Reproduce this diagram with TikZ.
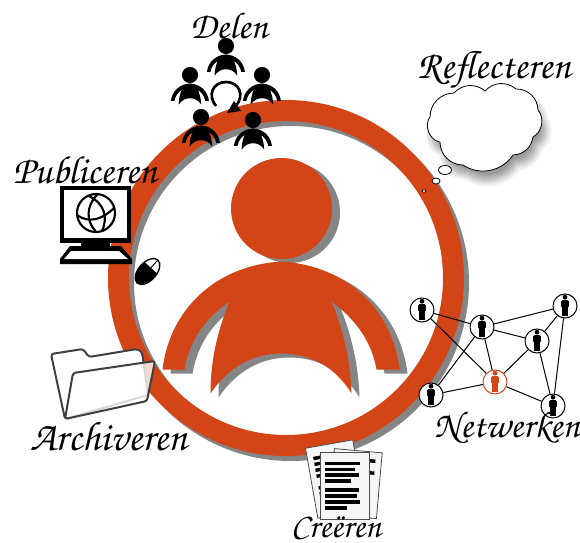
\documentclass[tikz,border=0pt]{standalone}
\usepackage[T1]{fontenc}
\usetikzlibrary{shadows.blur}
\definecolor{ringred}{HTML}{D34516}
\definecolor{shadegray}{HTML}{858585}
\tikzset{handtext/.style={inner sep=0pt,font=\fontencoding{T1}\fontfamily{pzc}\fontseries{mb}\fontshape{it}\fontsize{#1}{#1}\selectfont}}
\tikzstyle{netcircle}=[circle,draw=black,fill=white,line width=0.75pt,minimum size=18pt,inner sep=0pt]
\tikzstyle{netline}=[line width=0.75pt]
\tikzstyle{pagesheet}=[fill=white!96!black,draw=black!70,line width=0.6pt]
\tikzstyle{foldersheet}=[draw=black!75,line width=1.5pt,rounded corners=2pt]
\tikzstyle{globeline}=[line width=1.6pt]
% body and head around the head centre, used big and small
\newcommand{\personpath}{
  (0,53) .. controls (-67,57) and (-112,102) .. (-119,161) -- (-97,161)
  .. controls (-92,132) and (-77,110) .. (-52,93)
  .. controls (-66,127) and (-71,157) .. (-71,185)
  .. controls (-52,157) and (-27,145) .. (0,145)
  .. controls (27,145) and (53,157) .. (70,185)
  .. controls (69,157) and (64,127) .. (50,93)
  .. controls (73,110) and (90,132) .. (95,161) -- (118,161)
  .. controls (111,102) and (66,57) .. (0,53) -- cycle
  (0,0) circle (50.5)
}
\newcommand{\smallperson}[2]{
  \fill[black,shift={(#1,#2)},scale=0.16] \personpath;
}
\newcommand{\netman}[2][black]{
  \fill[#1,shift={(#2)}] (0,-8.8) circle (2.4);
  \fill[#1,shift={(#2)},rounded corners=1pt] (-3.8,-6) rectangle (3.8,2);
  \fill[#1,shift={(#2)}] (-2.9,0) rectangle (-0.2,10);
  \fill[#1,shift={(#2)}] (0.2,0) rectangle (2.9,10);
}
\begin{document}
\begin{tikzpicture}[x=0.75pt,y=-0.75pt]
  \useasboundingbox (0,0) rectangle (580,542);
  % ring
  \fill[shadegray,even odd rule] (291,283) circle (178) (291,283) circle (157);
  \fill[ringred,even odd rule] (286,278) circle (178) (286,278) circle (157);
  % big person
  \fill[shadegray,shift={(289.5,212.5)}] \personpath;
  \fill[ringred,shift={(281.5,208.5)}] \personpath;
  % Delen
  \smallperson{226}{46}
  \smallperson{190}{75}
  \smallperson{262}{75}
  \draw[line width=2pt] (216,106) .. controls (207,95) and (213,82) .. (226,82) .. controls (239,82) and (245,95) .. (236,106);
  \fill (234,101) -- (241,111) -- (227,113) -- cycle;
  \smallperson{201}{117}
  \smallperson{253}{120}
  \node[handtext=28] (delen) at (229,25) {Delen};
  % Reflecteren
  \node[handtext=29.5] (reflecteren) at (494,71) {Reflecteren};
  \path[fill=white,draw=black,line width=0.6pt,blur shadow={shadow xshift=3pt,shadow yshift=-7pt,shadow blur radius=5pt,shadow blur steps=10}]
    (454,93) to[bend left=45] (485,91) to[bend left=45] (516,89) to[bend left=45] (538,110)
    to[bend left=50] (533,137) to[bend left=40] (513,155) to[bend left=45] (463,165)
    to[bend left=45] (440,142) to[bend left=60] (430,117) to[bend left=45] (454,93) -- cycle;
  \draw[fill=white,line width=0.6pt] (445,170) circle [x radius=6.5,y radius=4.5];
  \draw[fill=white,line width=0.6pt] (436,181) circle [x radius=4,y radius=3];
  \draw[fill=white,line width=0.5pt] (424,191) circle [x radius=2,y radius=1.2];
  % Publiceren
  \node[handtext=29.5] (publiceren) at (85,170) {Publiceren};
  \fill (60,186) rectangle (131,243);
  \fill[white] (64,190) rectangle (127,238);
  \fill (81,243) rectangle (110,247);
  \fill (70,246) -- (121,246) -- (132,259) -- (132,264) -- (60,264) -- (60,259) -- cycle;
  \fill[white] (71,251) -- (119,251) -- (128,259) -- (64,259) -- cycle;
  \draw[globeline] (96,213) circle (19);
  \draw[globeline] (97,195) .. controls (86,206) and (86,221) .. (95.5,231);
  \draw[globeline] (89,196) .. controls (105,204) and (108,218) .. (102,231);
  \draw[globeline] (77,215) .. controls (89,224) and (103,219) .. (114,208);
  % mouse
  \begin{scope}[shift={(147.5,271.5)},rotate=48]
    \fill[white] (0,0) circle [x radius=15.5,y radius=9];
    \begin{scope}
      \clip (0,0) circle [x radius=15.5,y radius=9];
      \fill (-16,-10) rectangle (5,10);
    \end{scope}
    \draw[line width=1pt] (0,0) circle [x radius=15.5,y radius=9];
    \draw[line width=0.7pt] (5,0) -- (15.5,0);
  \end{scope}
  % Archiveren
  \draw[foldersheet,fill=white] (51,354) -- (83,349) -- (89,357) -- (137,349) -- (142,352) -- (148,395) -- (65,419) -- cycle;
  \draw[foldersheet,fill=white,fill opacity=0.8] (73,373) -- (155,361) -- (147,401) -- (65,419) -- cycle;
  \node[handtext=31] (archiveren) at (109,436) {Archiveren};
  % Creeren
  \begin{scope}[shift={(335.3,479)},rotate=10]
    \draw[pagesheet] (-24,-35.5) rectangle (24,35.5);
    \foreach \y in {-24,-18,-12,-6,6,12,18,24} { \fill (-18,\y-1.7) rectangle (18,\y+1.7); }
  \end{scope}
  \begin{scope}[shift={(355.4,483.6)},rotate=-5]
    \draw[pagesheet] (-24,-33) rectangle (24,33);
    \foreach \y in {-24,-12} { \fill (-18,\y-1.7) rectangle (18,\y+1.7); }
  \end{scope}
  \draw[pagesheet] (320.7,452.7) rectangle (369,519);
  \foreach \y/\w in {461.5/360,467.5/355,473/359,479/351,488/359,494/357,500/360,506/347} {
    \fill (325,\y) rectangle (\w,\y+3.5);
  }
  \node[handtext=26,anchor=south] (creeren) at (336,538) {Cre\"eren};
  % Netwerken
  \node[netcircle] (mana) at (422,310) {};
  \node[netcircle] (manb) at (482,327) {};
  \node[netcircle] (manc) at (537,341) {};
  \node[netcircle] (mand) at (565,306) {};
  \node[netcircle,draw=ringred] (mane) at (495,382) {};
  \node[netcircle] (manf) at (431,395) {};
  \node[netcircle] (mang) at (553,406) {};
  \foreach \a/\b in {mana/manb,mana/mane,manb/mand,manb/manc,manb/mane,manb/manf,manc/mand,manc/mane,manc/mang,mand/mang,mane/manf,mane/mang} {
    \draw[netline] (\a) -- (\b);
  }
  \netman{mana}
  \netman{manb}
  \netman{manc}
  \netman{mand}
  \netman[ringred]{mane}
  \netman{manf}
  \netman{mang}
  \node[handtext=28] (netwerken) at (507,428) {Netwerken};
\end{tikzpicture}
\end{document}
